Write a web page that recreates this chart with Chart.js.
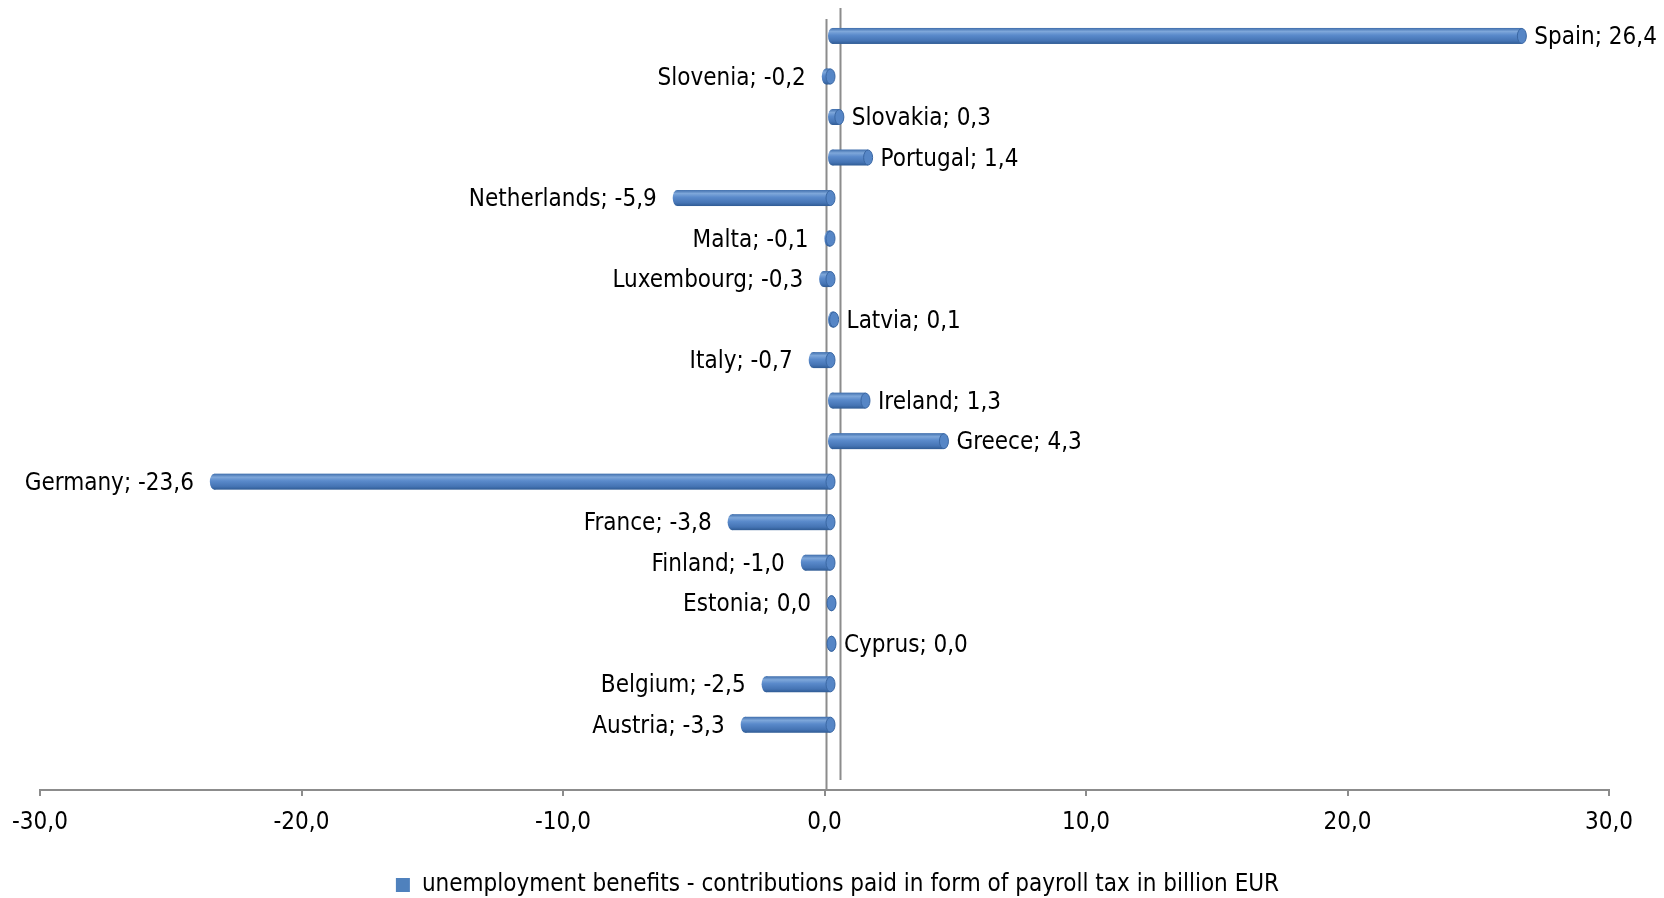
<!DOCTYPE html>
<html>
<head>
<meta charset="utf-8">
<script src="https://cdn.jsdelivr.net/npm/chart.js@4.4.1/dist/chart.umd.min.js"></script>
<style>
  html, body { margin: 0; padding: 0; background: #ffffff; }
  #wrap { width: 1664px; height: 898px; position: relative; }
</style>
</head>
<body>
<div id="wrap"><canvas id="chart"></canvas></div>
<script>
// Net balance per country, billion EUR (listed bottom to top)
const countries = ['Austria', 'Belgium', 'Cyprus', 'Estonia', 'Finland', 'France', 'Germany', 'Greece',
  'Ireland', 'Italy', 'Latvia', 'Luxembourg', 'Malta', 'Netherlands', 'Portugal', 'Slovakia', 'Slovenia', 'Spain'];
// Estonia is a small outflow that rounds to zero, kept as -0 so its label sits on the negative side
const values = [-3.3, -2.5, 0.0, -0.0, -1.0, -3.8, -23.6, 4.3, 1.3, -0.7, 0.1, -0.3, -0.1, -5.9, 1.4, 0.3, -0.2, 26.4];
const xTicks = [-30, -20, -10, 0, 10, 20, 30];
const seriesName = 'unemployment benefits - contributions paid in form of payroll tax in billion EUR';

const FONT = '"DejaVu Sans Condensed", "DejaVu Sans", sans-serif';
const FONT_SIZE = 24;
const LINE = '#8c8c8c';
const fmt = v => v.toFixed(1).replace('.', ',').replace(/^-(0,0)$/, '$1');
const isNeg = v => v < 0 || Object.is(v, -0);

Chart.defaults.font.family = FONT;
Chart.defaults.color = '#000000';

const DEPTH = 7;   // 3D depth shift of the bars
const CAP = 4.5;   // horizontal radius of the cylinder end caps

// walls of the 3D box: front zero line and back edge
const wallLines = {
  id: 'wallLines',
  beforeDatasetsDraw(chart) {
    const { ctx, chartArea, scales } = chart;
    const x0 = scales.x.getPixelForValue(0) + 2;
    ctx.save();
    ctx.strokeStyle = LINE;
    ctx.lineWidth = 2;
    ctx.beginPath();
    ctx.moveTo(x0, chartArea.top + 11);
    ctx.lineTo(x0, chartArea.bottom);
    ctx.moveTo(x0 + 14, chartArea.top);
    ctx.lineTo(x0 + 14, chartArea.bottom - 10);
    ctx.stroke();
    ctx.restore();
  }
};

// cylinder-shaped bars plus "Country; value" labels
const cylinders = {
  id: 'cylinders',
  afterDatasetsDraw(chart) {
    const { ctx } = chart;
    const meta = chart.getDatasetMeta(0);
    ctx.save();
    meta.data.forEach((el, i) => {
      const v = values[i];
      const x1 = Math.min(el.x, el.base) + DEPTH;
      const x2 = Math.max(el.x, el.base) + DEPTH;
      const h = el.height;
      const yT = el.y - h / 2;
      const g = ctx.createLinearGradient(0, yT, 0, yT + h);
      g.addColorStop(0, '#3e6dab');
      g.addColorStop(0.22, '#7ea7da');
      g.addColorStop(0.45, '#5a8acb');
      g.addColorStop(0.8, '#4574b4');
      g.addColorStop(1, '#2f5b94');
      ctx.fillStyle = g;
      ctx.beginPath();
      ctx.ellipse(x1, el.y, CAP, h / 2, 0, 0, Math.PI * 2);
      ctx.fill();
      ctx.fillRect(x1, yT, x2 - x1, h);
      // visible end face
      ctx.beginPath();
      ctx.ellipse(x2, el.y, CAP, h / 2 - 0.5, 0, 0, Math.PI * 2);
      ctx.fillStyle = '#5686c6';
      ctx.fill();
      ctx.strokeStyle = '#3a67a3';
      ctx.lineWidth = 1;
      ctx.stroke();

      // label
      ctx.font = FONT_SIZE + 'px ' + FONT;
      ctx.fillStyle = '#000000';
      ctx.textBaseline = 'middle';
      const text = countries[i] + '; ' + fmt(v);
      if (isNeg(v)) {
        ctx.textAlign = 'right';
        ctx.fillText(text, x1 - CAP - 16, el.y + 2);
      } else {
        ctx.textAlign = 'left';
        ctx.fillText(text, x2 + CAP + 8, el.y + 2);
      }
    });
    ctx.restore();
  }
};

// nudge the legend so it is centred under the whole figure rather than the plot
const legendShift = {
  id: 'legendShift',
  afterLayout(chart) {
    if (chart.legend) {
      chart.legend.left += 13;
      chart.legend.right += 13;
    }
  }
};

new Chart(document.getElementById('chart'), {
  type: 'bar',
  data: {
    datasets: [{
      label: seriesName,
      data: values.map((v, i) => ({ x: v, y: i })),
      backgroundColor: 'rgba(0,0,0,0)',
      borderWidth: 0,
      barThickness: 16
    }]
  },
  options: {
    indexAxis: 'y',
    responsive: true,
    maintainAspectRatio: false,
    animation: false,
    layout: { padding: { left: 40, right: 55, top: 8, bottom: -9 } },
    scales: {
      x: {
        type: 'linear',
        min: -30,
        max: 30,
        afterBuildTicks: s => { s.ticks = xTicks.map(v => ({ value: v })); },
        afterFit: s => { s.height = 79; },
        border: { display: true, color: LINE, width: 2 },
        grid: { drawOnChartArea: false, drawTicks: true, tickLength: 6, tickColor: LINE, lineWidth: 2 },
        ticks: {
          padding: 12,
          font: { size: FONT_SIZE },
          color: '#000000',
          maxRotation: 0,
          callback: v => v.toFixed(1).replace('.', ',')
        }
      },
      y: {
        type: 'linear',
        display: false,
        offset: false,
        grid: { offset: false },
        min: -1.61,
        max: 17.69
      }
    },
    plugins: {
      legend: {
        position: 'bottom',
        labels: {
          boxWidth: 14,
          boxHeight: 14,
          padding: 4,
          font: { size: FONT_SIZE },
          color: '#000000',
          generateLabels: chart => [{
            text: seriesName,
            fillStyle: '#4f81bd',
            strokeStyle: '#4f81bd',
            lineWidth: 0,
            datasetIndex: 0
          }]
        }
      },
      tooltip: { enabled: false }
    }
  },
  plugins: [wallLines, cylinders, legendShift]
});
</script>
</body>
</html>
